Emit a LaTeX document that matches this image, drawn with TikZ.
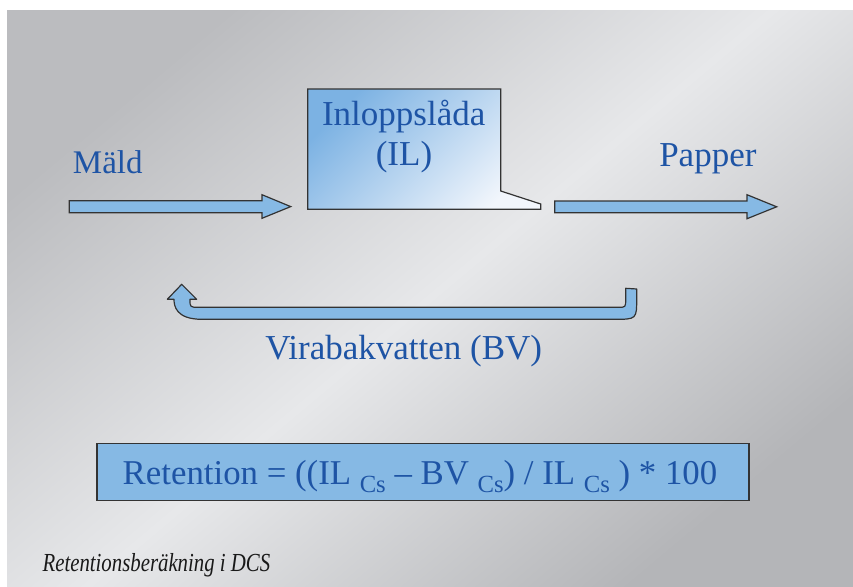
\documentclass[tikz,border=0pt]{standalone}
\usepackage{fontspec}
\setmainfont{Liberation Serif}
\usepackage{graphicx}
\definecolor{txtblue}{HTML}{1E54A5}
\definecolor{arrowfill}{HTML}{86B9E4}
\definecolor{edge}{HTML}{333333}
\definecolor{bgdarkA}{HTML}{BBBCBF}
\definecolor{bglight}{HTML}{E7E8EA}
\definecolor{bgdarkB}{HTML}{B4B5B8}
\definecolor{boxA}{HTML}{7CB2E3}
\definecolor{boxB}{HTML}{F2F6FC}
\newcommand\mysz[1]{\fontsize{#1}{#1}\selectfont}
\newcommand\csub{\raisebox{-0.24em}{\mysz{18.5pt}Cs}}
\begin{document}
\begin{tikzpicture}[x=0.75pt,y=-0.75pt,
  lbl/.style={text=txtblue, inner sep=0pt, font=\mysz{26.25pt}},
  blockarrow/.style={fill=arrowfill, draw=edge, line width=0.9pt, line join=miter}]
\useasboundingbox (0,0) rectangle (853,586);
\fill[white] (0,0) rectangle (853,586);
\shade[top color=bgdarkA, bottom color=bgdarkB, middle color=bglight, shading angle=40] (7,10) rectangle (853,586);

% Inloppslada box
\shade[top color=boxA, bottom color=boxB, shading angle=45]
  (307.7,89) -- (500.7,89) -- (500.7,191) -- (540.7,204) -- (540.7,209.3) -- (307.7,209.3) -- cycle;
\draw[edge, line width=0.9pt, line join=miter]
  (307.7,89) -- (500.7,89) -- (500.7,191) -- (540.7,204) -- (540.7,209.3) -- (307.7,209.3) -- cycle;
\node[lbl, anchor=base] (il1) at (403.7,125.5) {Inloppslåda};
\node[lbl, anchor=base] (il2) at (404,165) {(IL)};

% input / output arrows
\draw[blockarrow] (69.3,200.7) -- (262,200.7) -- (262,194.7) -- (290.7,206.6) -- (262,218.3) -- (262,212.7) -- (69.3,212.7) -- cycle;
\draw[blockarrow] (554.7,201) -- (747,201) -- (747,194.7) -- (776.7,206.8) -- (747,218.7) -- (747,212.7) -- (554.7,212.7) -- cycle;
\node[lbl, anchor=base west, font=\mysz{24.75pt}] (mald) at (72.7,173.3) {Mäld};
\node[lbl, anchor=base west] (papper) at (659,166.5) {Papper};

% return arrow
\draw[blockarrow, line join=round]
  (625.7,288.3) -- (636.7,289) -- (636.7,298)
  .. controls (636.7,319.3) .. (614,319.3) -- (202,319.3)
  .. controls (176,319.3) and (174,306) .. (174,299.3) -- (167.3,299.3) -- (181.7,284.3) -- (196.7,299.3) -- (190,299.3)
  .. controls (190,307.3) .. (199,307.3) -- (618,307.3)
  .. controls (625.7,307.3) .. (625.7,299) -- cycle;
\node[lbl, anchor=base west] (bv) at (265,359.3) {Virabakvatten (BV)};

% formula box
\draw[fill=arrowfill, draw=edge, line width=0.9pt] (97,443.3) rectangle (749,500.7);
\node[lbl, anchor=base, font=\mysz{26.1pt}] (formula) at (420,484) {Retention = ((IL \csub{} – BV \csub{}) / IL \csub{} ) * 100};

% caption
\node[anchor=base west, inner sep=0pt, text=black!90] (caption) at (42.3,571)
  {\scalebox{0.8}[1]{\mysz{19.5pt}\itshape Retentionsberäkning i DCS}};
\end{tikzpicture}
\end{document}
